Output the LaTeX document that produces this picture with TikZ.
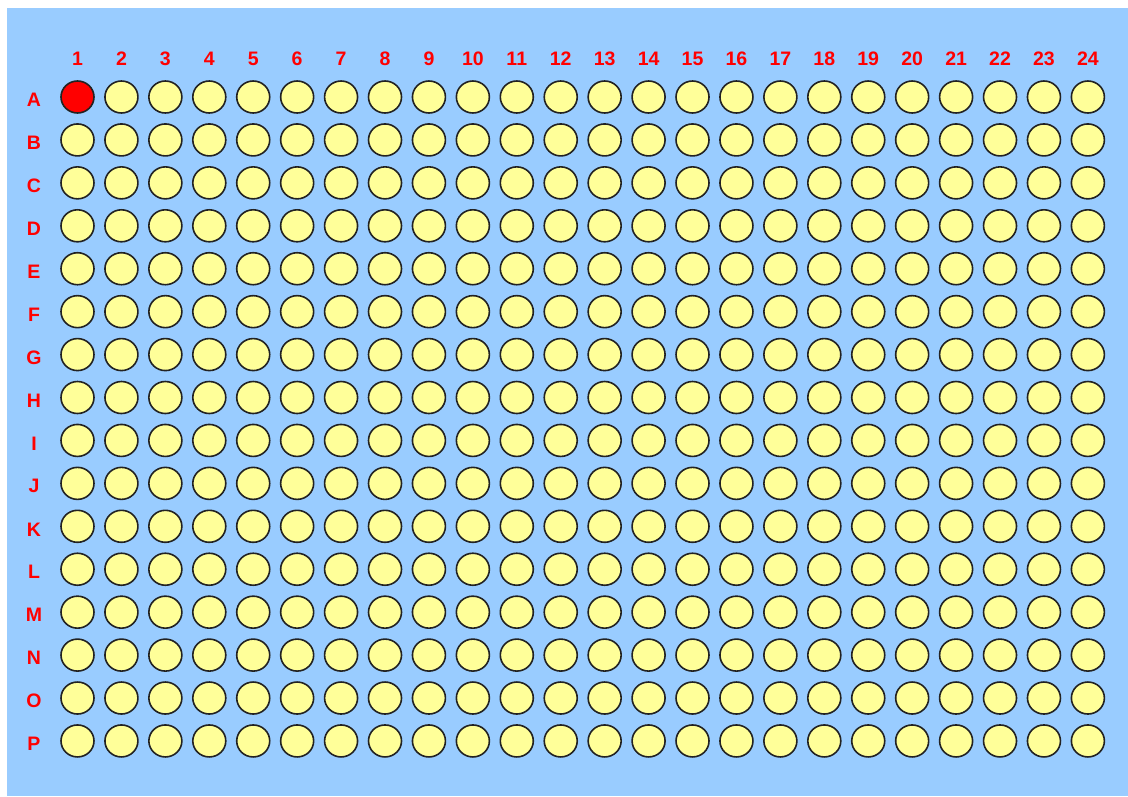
\documentclass[tikz,border=0pt]{standalone}
\usepackage{fontspec}
\setmainfont{Liberation Sans}
\usetikzlibrary{shapes.geometric}
\definecolor{plateblue}{HTML}{99CCFF}
\definecolor{wellyellow}{HTML}{FFFF99}
\definecolor{wellred}{HTML}{FF0000}
\definecolor{wellline}{HTML}{222222}
\definecolor{labelred}{HTML}{FF0000}
\begin{document}
\begin{tikzpicture}[x=1pt,y=-1pt,
  well/.style={ellipse,draw=wellline,line width=1.6pt,minimum width=33pt,minimum height=32pt,inner sep=0pt},
  lbl/.style={text=labelred,font=\fontsize{19.5}{19.5}\selectfont\bfseries,inner sep=0pt}]
\useasboundingbox (0,0) rectangle (1128,796);
\fill[white] (0,0) rectangle (1128,796);
\fill[plateblue] (7,8) rectangle (1128,796);
\foreach \c in {1,...,24}{
  \node[lbl] (col\c) at ({77.5+(\c-1)*43.93},59) {\c};
}
\foreach \r [count=\j] in {A,B,C,D,E,F,G,H,I,J,K,L,M,N,O,P}{
  \node[lbl] (row\r) at (34,{100+(\j-1)*42.93}) {\r};
  \foreach \c in {1,...,24}{
    \ifnum\j\c=11 \def\wf{wellred}\else\def\wf{wellyellow}\fi
    \node[well,fill=\wf] (w\r\c) at ({77.5+(\c-1)*43.93},{97+(\j-1)*42.93}) {};
  }
}
\end{tikzpicture}
\end{document}
